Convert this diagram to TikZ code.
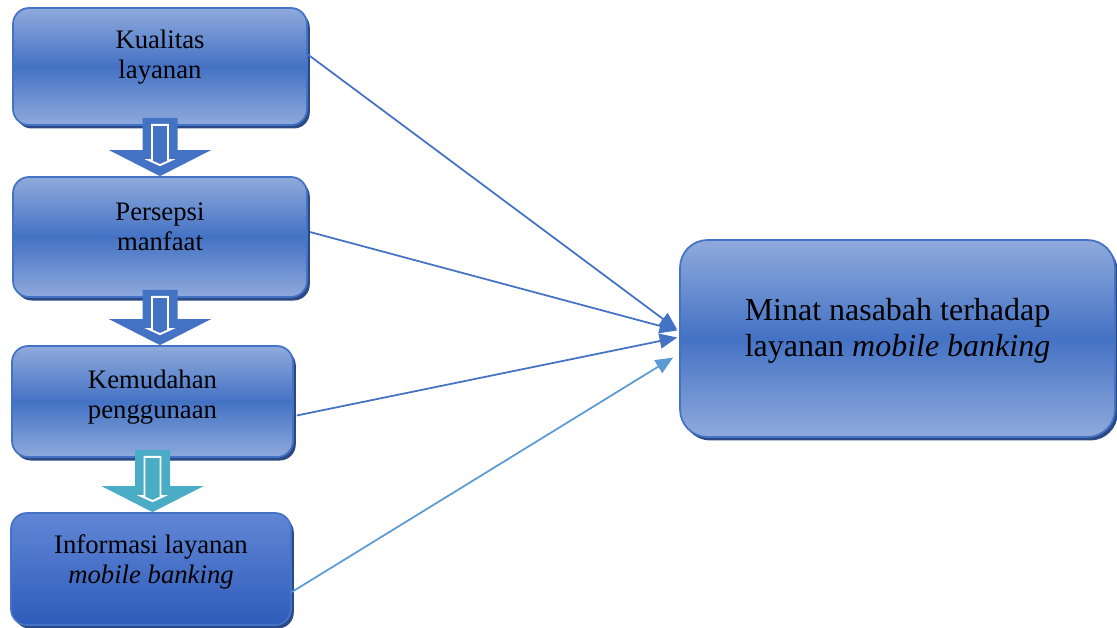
\documentclass[tikz,border=0pt]{standalone}
\usepackage{fontspec}
\setmainfont{Liberation Serif}
\usetikzlibrary{arrows.meta,shadows}
\definecolor{boxblue}{HTML}{4472C4}
\definecolor{boxlight}{HTML}{8FAADC}
\definecolor{boxdark}{HTML}{2B4A85}
\definecolor{infotop}{HTML}{6086D6}
\definecolor{infobottom}{HTML}{2F5CBA}
\definecolor{tealarrow}{HTML}{4BACC6}
\definecolor{lightline}{HTML}{5B9BD5}
\begin{document}
\begin{tikzpicture}[x=0.02cm, y=-0.02cm,
    box/.style={draw=boxblue, line width=1pt, rounded corners=0.32cm,
        top color=boxlight, bottom color=boxlight, middle color=boxblue,
        drop shadow={shadow xshift=1.6pt, shadow yshift=-2pt, fill=boxdark, opacity=1}},
    txt/.style={align=center, font=\fontsize{15.2}{17}\selectfont},
    link/.style={line width=1pt, -{Triangle[length=10pt, width=8.5pt]}}]
        \useasboundingbox (0, 0) rectangle (1117, 628);

        % factor boxes
        \node[box, minimum width=5.88cm, minimum height=2.34cm] (kualitas) at (160, 66.5) {};
        \node[box, minimum width=5.88cm, minimum height=2.40cm] (persepsi) at (160, 237) {};
        \node[box, minimum width=5.62cm, minimum height=2.22cm] (kemudahan) at (152.5, 401.5) {};
        \node[box, minimum width=5.60cm, minimum height=2.24cm, top color=infotop,
            bottom color=infobottom, middle color=infotop!50!infobottom] (informasi) at (151, 569) {};
        \node[box, minimum width=8.70cm, minimum height=3.94cm, rounded corners=0.55cm] (minat) at (897.5, 338.5) {};

        \node[txt] (tkualitas) at (160, 57) {Kualitas\\layanan};
        \node[txt] (tpersepsi) at (160, 227) {Persepsi\\manfaat};
        \node[txt] (tkemudahan) at (152.5, 397) {Kemudahan\\penggunaan};
        \node[txt] (tinformasi) at (151, 562) {Informasi layanan\\\textit{mobile banking}};
        \node[txt, font=\fontsize{18.2}{20.5}\selectfont] (tminat) at (897.5, 331)
            {Minat nasabah terhadap\\layanan \textit{mobile banking}};

        % block arrows between the boxes
        \foreach \a/\b/\col in {kualitas/persepsi/boxblue, persepsi/kemudahan/boxblue, kemudahan/informasi/tealarrow}{
            \coordinate (s) at (\a.south);
            \coordinate (e) at (\a.south |- \b.north);
            \fill[\col] ([shift={(-17.5,-8)}]s) -- ([shift={(-17.5,-26)}]e) -- ([shift={(-51,-26)}]e)
                -- (e) -- ([shift={(51,-26)}]e) -- ([shift={(17.5,-26)}]e) -- ([shift={(17.5,-8)}]s) -- cycle;
            \draw[white, line width=1.1pt] ([shift={(-8,-1)}]s) -- ([shift={(-8,-16)}]e) -- ([shift={(-11,-16)}]e)
                -- ([shift={(0,-11)}]e) -- ([shift={(11,-16)}]e) -- ([shift={(8,-16)}]e) -- ([shift={(8,-1)}]s) -- cycle;
        };

        % influence lines
        \draw[link, boxblue] ([shift={(0,-12)}]kualitas.east) -- ([shift={(-2,-9)}]minat.west);
        \draw[link, boxblue] ([shift={(2,-5)}]persepsi.east) -- ([shift={(-2,-8)}]minat.west);
        \draw[link, boxblue] ([shift={(3,14)}]kemudahan.east) -- ([shift={(-2,-1)}]minat.west);
        \draw[link, lightline] ([shift={(0,23)}]informasi.east) -- ([shift={(-6,19)}]minat.west);
\end{tikzpicture}
\end{document}
